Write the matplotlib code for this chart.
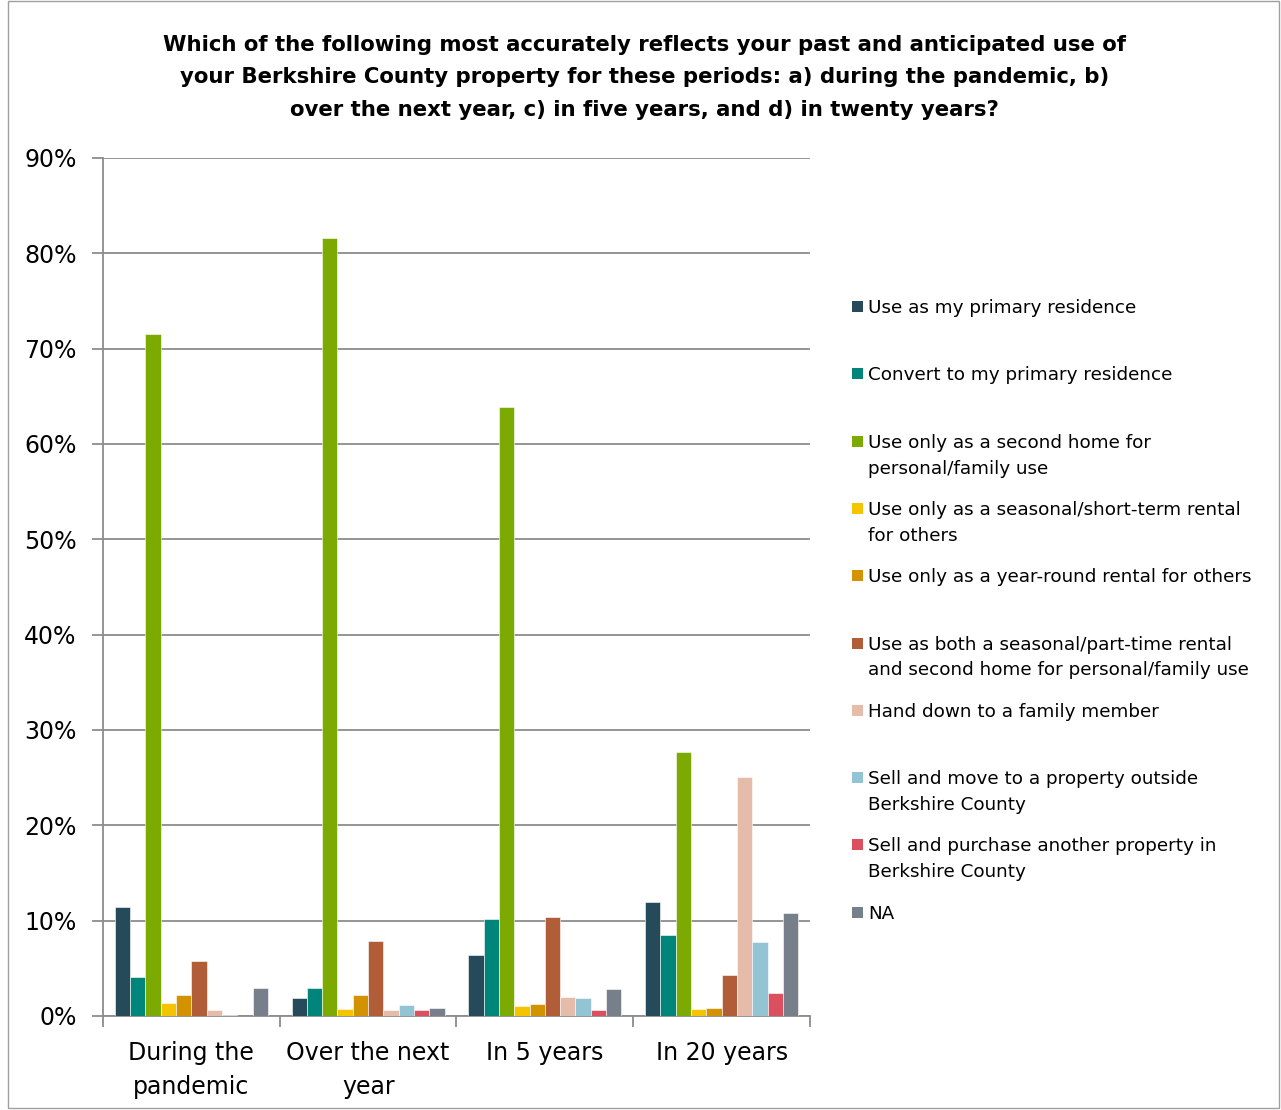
import numpy as np
import matplotlib
matplotlib.use("Agg")
import matplotlib.pyplot as plt
from matplotlib.patches import Rectangle

# Survey answers, share of respondents per period
periods = ["During the\npandemic", "Over the next\nyear", "In 5 years", "In 20 years"]

answers = [
    "Use as my primary residence",
    "Convert to my primary residence",
    "Use only as a second home for\npersonal/family use",
    "Use only as a seasonal/short-term rental\nfor others",
    "Use only as a year-round rental for others",
    "Use as both a seasonal/part-time rental\nand second home for personal/family use",
    "Hand down to a family member",
    "Sell and move to a property outside\nBerkshire County",
    "Sell and purchase another property in\nBerkshire County",
    "NA",
]

primary_residence = [11.4, 1.85, 6.4, 12.0]
convert_primary = [4.1, 2.9, 10.2, 8.5]
second_home = [71.5, 81.6, 63.9, 27.7]
seasonal_rental = [1.35, 0.75, 1.0, 0.75]
year_round_rental = [2.2, 2.2, 1.25, 0.85]
both_rental_home = [5.8, 7.85, 10.35, 4.3]
hand_down = [0.6, 0.6, 1.95, 25.1]
sell_outside = [0.15, 1.1, 1.85, 7.75]
sell_purchase = [0.0, 0.6, 0.6, 2.4]
not_answered = [2.9, 0.85, 2.8, 10.8]

series = [primary_residence, convert_primary, second_home, seasonal_rental,
          year_round_rental, both_rental_home, hand_down, sell_outside,
          sell_purchase, not_answered]

colors = ["#254B5A", "#00857A", "#7DAA00", "#F5C400", "#D39200",
          "#B05D38", "#E5BCAA", "#92C4D4", "#DC4F5E", "#77808A"]

fig = plt.figure(figsize=(12.81, 11.10), dpi=100)
ax = fig.add_axes([0.0804, 0.0847, 0.5519, 0.7730])

x = np.arange(len(periods))
width = 0.0866
n = len(series)
for i, (vals, col) in enumerate(zip(series, colors)):
    offs = (i - (n - 1) / 2) * width
    ax.bar(x + offs, vals, width=width, color=col, edgecolor="white",
           linewidth=0.4, zorder=3)

grid_col = "#8C8C8C"
ax.set_xlim(-0.5, len(periods) - 0.5)
ax.set_ylim(0, 90)
ax.set_yticks(np.arange(0, 91, 10))
ax.set_yticklabels([f"{v}%" for v in range(0, 91, 10)], fontsize=17)
ax.yaxis.grid(True, color=grid_col, linewidth=1.3, zorder=0)
ax.tick_params(axis="y", length=8, width=1.3, color=grid_col, pad=11)

ax.set_xticks(x)
ax.set_xticklabels(periods, fontsize=17, linespacing=1.55)
ax.set_xticks(np.arange(-0.5, len(periods), 1.0), minor=True)
ax.tick_params(axis="x", which="major", length=0, pad=18)
ax.tick_params(axis="x", which="minor", length=8, width=1.3, color=grid_col)

for side in ["top", "right"]:
    ax.spines[side].set_visible(False)
for side in ["left", "bottom"]:
    ax.spines[side].set_color(grid_col)
    ax.spines[side].set_linewidth(1.3)

fig.text(0.503, 0.9685,
         "Which of the following most accurately reflects your past and anticipated use of\n"
         "your Berkshire County property for these periods: a) during the pandemic, b)\n"
         "over the next year, c) in five years, and d) in twenty years?",
         ha="center", va="top", fontsize=15.3, fontweight="bold", linespacing=1.77)

# legend drawn by hand so every entry sits on an even row
leg_top = 1 - 307 / 1110
leg_step = 67.3 / 1110
for i, (lab, col) in enumerate(zip(answers, colors)):
    yy = leg_top - i * leg_step
    fig.patches.append(Rectangle((852 / 1281, yy - 5 / 1110), 11 / 1281, 11 / 1110,
                                 transform=fig.transFigure, facecolor=col,
                                 edgecolor="none"))
    fig.text(868 / 1281, yy + 8 / 1110, lab, ha="left", va="top",
             fontsize=13.2, linespacing=1.57)

# outer frame
fig.patches.append(Rectangle((8 / 1281, 2 / 1110), 1271 / 1281, 1107 / 1110,
                             transform=fig.transFigure, facecolor="none",
                             edgecolor="#A0A0A0", linewidth=1.0))

fig.savefig("out.png", dpi=100)
